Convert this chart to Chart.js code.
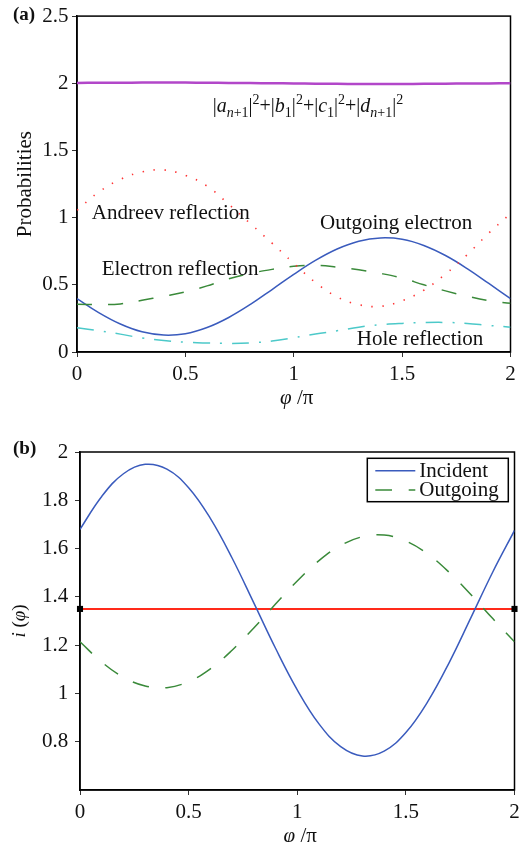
<!DOCTYPE html>
<html lang="en">
<head>
  <meta charset="UTF-8">
  <title>Probabilities and i(phi)</title>
  <script src="https://cdn.jsdelivr.net/npm/chart.js"></script>
  <style>
    html, body { margin: 0; padding: 0; background: #fff; overflow: hidden; }
    body { width: 529px; height: 842px; position: relative; }
    #panelA { position: absolute; left: 0; top: 0; }
    #panelB { position: absolute; left: 0; top: 420px; }
  </style>
</head>
<body>
<canvas id="panelA" width="529" height="420"></canvas>
<canvas id="panelB" width="529" height="440"></canvas>

<script>
// phase phi / pi, shared by all curves
const phi = [0, 0.1, 0.2, 0.3, 0.4, 0.5, 0.6, 0.7, 0.8, 0.9, 1.0,
             1.1, 1.2, 1.3, 1.4, 1.5, 1.6, 1.7, 1.8, 1.9, 2.0];

// panel (a) probabilities
const totalProb = [2.003, 2.004, 2.004, 2.005, 2.005, 2.005, 2.004, 2.003, 2.002, 2.0, 1.999,
                   1.997, 1.996, 1.995, 1.995, 1.995, 1.996, 1.997, 1.998, 1.999, 2.0];
const andreev = [1.055, 1.19, 1.285, 1.34, 1.355, 1.315, 1.235, 1.10, 0.955, 0.81, 0.66,
                 0.518, 0.41, 0.352, 0.34, 0.382, 0.46, 0.58, 0.724, 0.885, 1.03];
const electronRefl = [0.356, 0.353, 0.358, 0.385, 0.415, 0.447, 0.492, 0.545, 0.585, 0.615, 0.638,
                      0.645, 0.632, 0.612, 0.585, 0.55, 0.50, 0.455, 0.415, 0.382, 0.362];
const outgoingElectron = [0.397, 0.293, 0.208, 0.150, 0.126, 0.136, 0.182, 0.257, 0.354, 0.465, 0.578,
                          0.682, 0.767, 0.825, 0.849, 0.839, 0.793, 0.718, 0.621, 0.510, 0.397];
const holeRefl = [0.18, 0.158, 0.133, 0.104, 0.086, 0.073, 0.067, 0.064, 0.068, 0.082, 0.106,
                  0.134, 0.158, 0.185, 0.203, 0.213, 0.219, 0.22, 0.213, 0.198, 0.185];

// panel (b) i(phi)
const incident = [1.68, 1.816, 1.910, 1.949, 1.929, 1.852, 1.725, 1.561, 1.375, 1.187, 1.015,
                  0.874, 0.780, 0.741, 0.761, 0.838, 0.965, 1.129, 1.315, 1.503, 1.675];
const outgoing = [1.214, 1.130, 1.067, 1.031, 1.024, 1.049, 1.102, 1.179, 1.271, 1.370, 1.466,
                  1.550, 1.613, 1.649, 1.656, 1.631, 1.578, 1.501, 1.409, 1.310, 1.214];
const refPhi = [0, 2];
const refLevel = [1.35, 1.35];

// tick labels
const phiTicks = [0, 0.5, 1, 1.5, 2];
const probTicks = [0, 0.5, 1, 1.5, 2, 2.5];
const currentTicks = [0.8, 1, 1.2, 1.4, 1.6, 1.8, 2];

const SERIF = "'Liberation Serif', 'DejaVu Serif', serif";

function pts(xs, ys) {
  return xs.map((x, i) => ({ x: x, y: ys[i] }));
}

// draw a run of text pieces, some italic / sub / sup
function drawRich(ctx, parts, x, y, size, align) {
  const small = Math.round(size * 0.7);
  const fontOf = p => (p.it ? 'italic ' : '') + ((p.sub || p.sup) ? small : size) + 'px ' + SERIF;
  let w = 0;
  parts.forEach(p => { ctx.font = fontOf(p); w += ctx.measureText(p.t).width; });
  let cx = align === 'center' ? x - w / 2 : x;
  ctx.textAlign = 'left';
  ctx.textBaseline = 'alphabetic';
  parts.forEach(p => {
    ctx.font = fontOf(p);
    const dy = p.sub ? size * 0.25 : (p.sup ? -size * 0.42 : 0);
    ctx.fillText(p.t, cx, y + dy);
    cx += ctx.measureText(p.t).width;
  });
}

const framePlugin = {
  id: 'frame',
  beforeDatasetsDraw(chart) {
    const { ctx, chartArea: a } = chart;
    ctx.save();
    ctx.strokeStyle = '#000';
    ctx.lineWidth = 1.5;
    ctx.strokeRect(a.left, a.top, a.right - a.left, a.bottom - a.top);
    ctx.restore();
  }
};

const plain = v => String(+(+v).toFixed(2));

function axisSetup(ticks, fitWidth, fitHeight) {
  return {
    x: {
      type: 'linear', min: 0, max: 2,
      afterBuildTicks: s => { s.ticks = phiTicks.map(v => ({ value: v })); },
      afterFit: s => { s.height = fitHeight; },
      grid: { drawOnChartArea: false, tickLength: 5, tickColor: '#333' },
      border: { color: '#000', width: 1.5 },
      ticks: { color: '#111', padding: 5, maxRotation: 0, callback: plain, font: { family: SERIF, size: 21 } }
    },
    y: {
      type: 'linear', min: ticks.min, max: ticks.max,
      afterBuildTicks: s => { s.ticks = ticks.list.map(v => ({ value: v })); },
      afterFit: s => { s.width = fitWidth; },
      grid: { drawOnChartArea: false, tickLength: 5, tickColor: '#333' },
      border: { color: '#000', width: 1.5 },
      ticks: { color: '#111', padding: ticks.pad, callback: plain, font: { family: SERIF, size: 21 } },
      title: ticks.title || { display: false }
    }
  };
}

function line(label, xs, ys, color, width, dash) {
  return {
    label: label,
    data: pts(xs, ys),
    borderColor: color,
    backgroundColor: color,
    borderWidth: width,
    borderDash: dash || [],
    pointRadius: 0,
    tension: 0.4,
    fill: false
  };
}

// ---------- panel (a) ----------
const notesA = {
  id: 'notesA',
  afterDatasetsDraw(chart) {
    const { ctx, scales: { x, y } } = chart;
    ctx.save();
    ctx.fillStyle = '#111';
    const put = (t, px, py) => drawRich(ctx, [{ t: t }], x.getPixelForValue(px), y.getPixelForValue(py), 21, 'left');
    put('Andreev reflection', 0.068, 0.993);
    put('Electron reflection', 0.114, 0.572);
    put('Outgoing electron', 1.121, 0.918);
    put('Hole reflection', 1.291, 0.052);
    drawRich(ctx, [
      { t: '|' }, { t: 'a', it: 1 }, { t: 'n', it: 1, sub: 1 }, { t: '+1', sub: 1 }, { t: '|' }, { t: '2', sup: 1 },
      { t: '+|' }, { t: 'b', it: 1 }, { t: '1', sub: 1 }, { t: '|' }, { t: '2', sup: 1 },
      { t: '+|' }, { t: 'c', it: 1 }, { t: '1', sub: 1 }, { t: '|' }, { t: '2', sup: 1 },
      { t: '+|' }, { t: 'd', it: 1 }, { t: 'n', it: 1, sub: 1 }, { t: '+1', sub: 1 }, { t: '|' }, { t: '2', sup: 1 }
    ], x.getPixelForValue(0.626), y.getPixelForValue(1.786), 20, 'left');

    // x axis title and panel tag
    const a = chart.chartArea;
    drawRich(ctx, [{ t: '\u03C6', it: 1 }, { t: ' /\u03C0' }], (a.left + a.right) / 2 + 3, a.bottom + 52, 21, 'center');
    ctx.font = 'bold 19px ' + SERIF;
    ctx.fillText('(a)', 13, 20);
    ctx.restore();
  }
};

new Chart(document.getElementById('panelA').getContext('2d'), {
  type: 'line',
  data: {
    datasets: [
      line('|a|2+|b|2+|c|2+|d|2', phi, totalProb, '#b247c9', 2.5),
      line('Andreev reflection', phi, andreev, '#ff3333', 1.6, [1.4, 9.6]),
      line('Electron reflection', phi, electronRefl, '#3a8a3a', 1.5, [15, 16]),
      line('Outgoing electron', phi, outgoingElectron, '#3a5bbd', 1.5),
      line('Hole reflection', phi, holeRefl, '#4cc9c9', 1.5, [17, 10, 2, 10])
    ]
  },
  options: {
    responsive: false,
    animation: false,
    layout: { padding: { top: 15, right: 18.5, left: 0, bottom: 0 } },
    plugins: { legend: { display: false }, tooltip: { enabled: false } },
    scales: axisSetup({
      min: 0, max: 2.5, list: probTicks, pad: 3.5,
      title: { display: true, text: 'Probabilities', color: '#111', padding: { top: 13, bottom: 0 },
               font: { family: SERIF, size: 21 } }
    }, 77, 68)
  },
  plugins: [framePlugin, notesA]
});

// ---------- panel (b) ----------
const notesB = {
  id: 'notesB',
  afterDatasetsDraw(chart) {
    const { ctx, chartArea: a } = chart;
    ctx.save();

    // legend box
    const bx = a.right - 147.2, by = a.top + 6.3, bw = 141, bh = 43.4;
    ctx.fillStyle = '#fff';
    ctx.fillRect(bx, by, bw, bh);
    ctx.strokeStyle = '#000';
    ctx.lineWidth = 1.5;
    ctx.strokeRect(bx, by, bw, bh);
    const rows = [chart.data.datasets[0], chart.data.datasets[1]];
    rows.forEach((ds, i) => {
      const ly = by + 12.4 + i * 19.3;
      ctx.strokeStyle = ds.borderColor;
      ctx.lineWidth = ds.borderWidth;
      ctx.setLineDash(ds.borderDash);
      ctx.beginPath();
      ctx.moveTo(bx + 8, ly);
      ctx.lineTo(bx + 48, ly);
      ctx.stroke();
      ctx.setLineDash([]);
      ctx.fillStyle = '#111';
      drawRich(ctx, [{ t: ds.label }], bx + 52, ly + 6, 21, 'left');
    });

    // axis titles and panel tag
    ctx.fillStyle = '#111';
    drawRich(ctx, [{ t: '\u03C6', it: 1 }, { t: ' /\u03C0' }], (a.left + a.right) / 2 + 3, a.bottom + 52, 21, 'center');
    ctx.save();
    ctx.translate(25, (a.top + a.bottom) / 2);
    ctx.rotate(-Math.PI / 2);
    drawRich(ctx, [{ t: 'i', it: 1 }, { t: ' (' }, { t: '\u03C6', it: 1 }, { t: ')' }], 0, 0, 19, 'center');
    ctx.restore();
    ctx.font = 'bold 19px ' + SERIF;
    ctx.textAlign = 'left';
    ctx.fillText('(b)', 13, 34);
    ctx.restore();
  }
};

const refLine = line('level', refPhi, refLevel, '#ff2a1a', 2);
refLine.pointRadius = 4.3;
refLine.pointStyle = 'rect';
refLine.pointBackgroundColor = '#000';
refLine.pointBorderColor = '#000';
refLine.pointBorderWidth = 0;
refLine.clip = false;

new Chart(document.getElementById('panelB').getContext('2d'), {
  type: 'line',
  data: {
    datasets: [
      line('Incident', phi, incident, '#3a5bbd', 1.5),
      line('Outgoing', phi, outgoing, '#3a8a3a', 1.5, [16.7, 16.7]),
      refLine
    ]
  },
  options: {
    responsive: false,
    animation: false,
    layout: { padding: { top: 32, right: 14.5, left: 0, bottom: 0 } },
    plugins: { legend: { display: false }, tooltip: { enabled: false } },
    scales: axisSetup({ min: 0.6, max: 2, list: currentTicks, pad: 6.7 }, 80, 70)
  },
  plugins: [framePlugin, notesB]
});
</script>
</body>
</html>
